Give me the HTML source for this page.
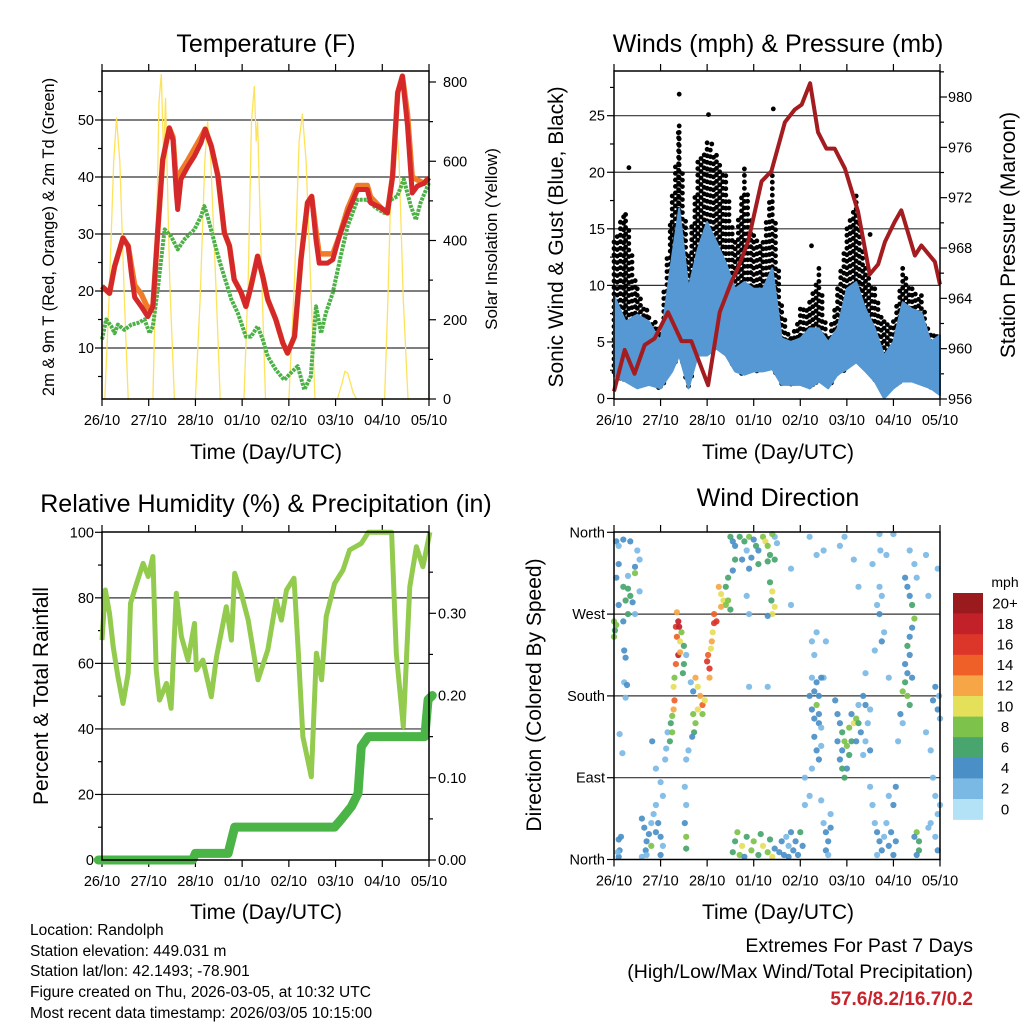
<!DOCTYPE html>
<html><head><meta charset="utf-8"><title>Station Meteogram</title>
<style>
html,body{margin:0;padding:0;background:#fff;}
svg{display:block;font-family:"Liberation Sans",Arial,sans-serif;}
</style></head>
<body>
<svg id="fig" width="1024" height="1024" viewBox="0 0 1024 1024" xmlns="http://www.w3.org/2000/svg">
<rect width="1024" height="1024" fill="#fff"/>
<text x="266" y="52" font-size="25" text-anchor="middle">Temperature (F)</text>
<text x="778" y="52" font-size="25" text-anchor="middle">Winds (mph) &amp; Pressure (mb)</text>
<text x="266" y="512" font-size="25" text-anchor="middle">Relative Humidity (%) &amp; Precipitation (in)</text>
<text x="778" y="506" font-size="25" text-anchor="middle">Wind Direction</text>
<text x="266" y="459" font-size="21" text-anchor="middle">Time (Day/UTC)</text>
<text x="778" y="459" font-size="21" text-anchor="middle">Time (Day/UTC)</text>
<text x="266" y="919" font-size="21" text-anchor="middle">Time (Day/UTC)</text>
<text x="778" y="919" font-size="21" text-anchor="middle">Time (Day/UTC)</text>
<text transform="translate(54,237) rotate(-90)" font-size="16.5" text-anchor="middle">2m &amp; 9m T (Red, Orange) &amp; 2m Td (Green)</text>
<text transform="translate(497,239) rotate(-90)" font-size="17" text-anchor="middle">Solar Insolation (Yellow)</text>
<text transform="translate(563,237) rotate(-90)" font-size="21" text-anchor="middle">Sonic Wind &amp; Gust (Blue, Black)</text>
<text transform="translate(1015,235) rotate(-90)" font-size="21" text-anchor="middle">Station Pressure (Maroon)</text>
<text transform="translate(48,696) rotate(-90)" font-size="21" text-anchor="middle">Percent &amp; Total Rainfall</text>
<text transform="translate(541,695) rotate(-90)" font-size="21" text-anchor="middle">Direction (Colored By Speed)</text>
<g font-size="15.5">
<text x="30" y="935">Location: Randolph</text>
<text x="30" y="956">Station elevation: 449.031 m</text>
<text x="30" y="976">Station lat/lon: 42.1493; -78.901</text>
<text x="30" y="997">Figure created on Thu, 2026-03-05, at 10:32 UTC</text>
<text x="30" y="1018">Most recent data timestamp: 2026/03/05 10:15:00</text>
</g>
<text x="973" y="952" font-size="19.5" text-anchor="end">Extremes For Past 7 Days</text>
<text x="973" y="978" font-size="19.5" text-anchor="end">(High/Low/Max Wind/Total Precipitation)</text>
<text x="973" y="1005" font-size="19" font-weight="bold" fill="#c8232c" text-anchor="end">57.6/8.2/16.7/0.2</text>
</svg>
<script>
// ---------- data ----------
const dayLabels = ["26/10","27/10","28/10","01/10","02/10","03/10","04/10","05/10"];
const tempT = [0,0.16,0.27,0.45,0.56,0.63,0.70,0.84,0.98,1.09,1.20,1.30,1.44,1.52,1.59,1.62,1.69,1.84,1.98,2.12,2.21,2.34,2.48,2.62,2.73,2.83,2.98,3.08,3.19,3.33,3.44,3.55,3.72,3.87,3.97,4.12,4.26,4.40,4.49,4.58,4.65,4.83,4.94,5.08,5.26,5.47,5.68,5.75,5.97,6.11,6.22,6.33,6.43,6.54,6.64,6.75,6.89,7.00];
const tempRed = [20.8,19.6,24.3,29.3,27.9,23.0,18.9,17.3,15.5,17.3,31.4,43.0,48.6,46.5,37.2,34.3,39.6,41.9,43.7,46.0,48.4,45.4,40.2,30.2,27.9,22.0,19.7,17.3,20.8,26.1,22.6,18.5,15.0,10.9,9.1,12.0,25.6,35.5,36.6,29.0,24.9,24.9,25.5,29.6,33.7,37.8,37.8,35.5,34.6,33.7,40.2,54.8,57.7,49.0,37.2,38.4,38.9,39.9];
const tempOrange = [20.8,19.6,24.3,29.3,27.9,24.5,21.0,19.5,17.0,17.3,31.4,43.0,48.6,47.0,39.0,37.0,41.0,43.0,45.0,47.0,48.4,45.4,40.2,30.2,27.9,22.0,19.7,17.3,20.8,26.1,22.6,18.5,15.0,10.9,9.1,12.0,25.6,35.5,36.6,30.5,26.5,26.5,26.5,29.6,34.5,38.5,38.5,36.5,34.6,33.7,40.2,54.8,57.7,51.0,40.0,39.5,38.9,39.9];
const dewT = [0,0.09,0.20,0.27,0.34,0.48,0.63,0.77,0.91,1.02,1.09,1.20,1.34,1.48,1.62,1.77,1.98,2.12,2.19,2.26,2.41,2.55,2.66,2.77,2.91,3.08,3.19,3.33,3.44,3.55,3.72,3.90,4.04,4.19,4.33,4.47,4.58,4.69,4.79,4.94,5.11,5.26,5.47,5.68,5.86,6.04,6.18,6.32,6.46,6.61,6.72,6.82,7.00];
const dewV = [11.5,15.0,13.8,12.6,14.1,13.2,14.1,14.4,15.0,12.6,13.8,20.8,30.8,29.6,27.3,29.1,30.8,33.1,34.9,33.1,28.4,24.3,21.4,18.5,16.1,12.0,12.0,13.8,11.5,8.5,6.2,4.4,5.6,6.8,2.7,5.0,17.3,12.6,16.1,19.7,26.1,31.4,36.0,36.0,34.6,33.7,36.0,36.6,39.6,34.9,32.5,35.5,39.0];
const solarT = [0,0.06,0.15,0.25,0.31,0.38,0.48,0.56,1.09,1.15,1.22,1.27,1.32,1.36,1.45,1.55,2.0,2.1,2.2,2.26,2.33,2.45,2.53,3.04,3.13,3.2,3.26,3.3,3.33,3.42,3.5,4.0,4.12,4.22,4.29,4.37,4.48,4.56,5.04,5.14,5.2,5.26,5.32,5.38,5.45,6.05,6.12,6.2,6.29,6.36,6.45,6.55,7.0];
const solarV = [0,0,250,600,710,600,250,0,0,300,750,820,600,760,300,0,0,250,600,700,600,250,0,0,300,700,790,650,700,300,0,0,300,650,720,600,250,0,0,40,70,65,40,15,0,0,250,600,720,600,250,0,0];
const windT = [0,0.25,0.5,0.75,1.0,1.25,1.4,1.6,1.8,2.0,2.2,2.4,2.6,2.8,3.0,3.2,3.4,3.6,3.8,4.0,4.2,4.4,4.6,4.8,5.0,5.2,5.4,5.6,5.8,6.0,6.2,6.4,6.6,6.8,7.0];
const windHi = [9.1,6.8,7.4,6.8,5.0,12.6,16.8,9.7,13.2,15.6,13.8,12.0,9.7,10.3,9.7,9.7,11.5,5.3,5.0,5.3,6.2,6.2,5.0,6.2,9.7,10.3,7.9,6.2,3.8,5.0,8.5,7.9,7.6,5.0,5.6];
const windLo = [2.0,1.5,0.9,1.2,0.9,2.4,3.8,0.9,3.8,3.8,4.4,3.8,2.4,2.1,2.4,2.4,2.6,1.2,1.2,1.2,0.9,1.5,0.9,2.1,2.6,3.2,2.4,1.5,0,0.9,1.5,1.5,1.2,0.9,0.3];
const gustHi = [14.1,16.8,9.7,7.4,6.2,17.9,24.1,12.6,20.9,22.6,21.5,19.7,13.8,20.3,14.4,13.8,19.7,8.2,5.3,7.9,8.5,11.5,5.3,9.7,15.0,17.9,11.5,9.7,6.8,6.8,11.5,9.7,9.1,5.6,6.2];
const gustOutT = [0.32,1.38,1.4,2.03,2.1,3.42,4.24,5.5];
const gustOutV = [20.4,23.5,26.9,25.1,22.5,25.6,13.5,14.5];
const presT = [0,0.23,0.44,0.66,0.87,1.16,1.45,1.66,2.02,2.27,2.52,2.66,2.88,3.17,3.38,3.67,3.88,4.03,4.21,4.38,4.56,4.74,4.96,5.24,5.49,5.67,5.82,6.03,6.17,6.46,6.60,6.89,7.0];
const presV = [956.6,959.9,958.0,960.3,960.8,962.9,960.6,960.6,957.1,962.9,965.3,966.4,968.5,973.3,974.1,978.0,979.0,979.4,981.1,977.2,975.9,975.9,974.3,970.9,965.9,966.7,968.5,970.1,971.0,967.4,968.2,966.9,965.1];
const rhT = [0,0.07,0.16,0.24,0.34,0.45,0.56,0.61,0.74,0.88,0.99,1.09,1.16,1.23,1.38,1.48,1.59,1.70,1.84,1.98,2.02,2.16,2.34,2.45,2.66,2.77,2.84,2.98,3.13,3.34,3.55,3.73,3.84,3.95,4.11,4.20,4.30,4.48,4.59,4.70,4.80,4.98,5.16,5.30,5.55,5.70,6.20,6.30,6.45,6.59,6.73,6.87,7.02];
const rhV = [67.1,82.4,75.3,65.1,56.0,47.8,57.0,78.3,84.4,90.5,86.5,92.6,58.0,48.8,53.9,46.3,81.4,68.2,61.0,72.2,58.0,61.0,49.8,62.0,77.3,67.1,87.5,81.4,73.2,55.0,64.1,79.3,73.2,82.4,86.0,64.1,37.6,25.4,63.1,55.0,74.3,84.4,88.5,94.6,96.6,100,100,63.1,40.7,83.4,95.6,89.5,100];
const rainT = [-0.08,1.94,2.0,2.7,2.84,4.98,5.13,5.34,5.48,5.55,5.70,6.91,6.98,7.07];
const rainV = [0,0,0.008,0.008,0.04,0.04,0.05,0.065,0.081,0.138,0.15,0.15,0.195,0.2];
const dirT = [0.05,0.1,0.2,0.35,0.5,0.55,0.45,0.1,0.05,0.2,0.3,0.35,0.25,0.4,0.1,0.3,0.2,0.45,0.3,0.55,0.45,
0.0,0.02,0.0,0.05,0.22,0.25,0.22,0.28,0.25,0.12,0.18,0.1,0.12,0.1,0.08,0.15,
0.6,0.65,0.7,0.68,0.75,0.8,0.85,0.9,0.95,1.0,1.05,0.7,0.8,0.9,1.05,0.6,1.0,0.82,0.9,1.0,1.1,1.15,
1.35,1.38,1.33,1.4,1.35,1.45,1.42,1.5,1.38,1.42,1.33,1.5,1.48,1.55,
1.3,1.28,1.3,1.28,1.25,1.22,1.25,1.2,1.12,1.55,1.55,1.52,1.55,1.52,
1.75,1.8,1.85,1.9,1.8,1.95,1.7,1.75,1.72,1.68,1.9,1.7,1.65,1.6,1.55,
2.05,2.05,2.0,2.02,2.1,2.12,2.15,2.15,2.2,2.08,
2.25,2.3,2.35,2.4,2.3,2.45,2.5,2.4,2.45,2.55,2.6,
2.5,2.55,2.6,2.7,2.8,2.85,2.9,3.0,3.05,3.1,3.2,3.25,3.3,3.35,3.45,3.5,3.4,2.75,2.95,3.1,3.3,3.45,2.9,
3.35,3.4,3.38,3.45,3.4,3.3,2.85,2.9,3.3,2.9,3.8,3.8,
2.55,2.6,2.7,2.75,2.85,2.8,2.95,3.0,3.1,3.15,3.2,3.3,3.35,3.4,3.45,3.55,3.6,3.65,3.7,3.75,3.8,3.85,3.9,3.95,4.05,3.75,4.0,2.65,
4.25,4.3,4.25,4.35,4.3,4.4,4.35,4.25,4.3,4.4,4.45,4.3,4.35,4.4,4.25,4.45,4.5,4.2,4.4,4.45,4.1,4.1,4.2,4.35,4.55,4.45,
4.5,4.55,4.6,4.55,4.65,4.6,4.65,
4.75,4.8,4.85,4.9,4.95,5.0,4.9,4.85,5.05,5.1,5.05,5.15,5.2,5.25,5.3,5.0,4.95,4.9,5.2,4.8,5.1,5.25,
5.35,5.4,5.5,5.45,5.4,5.35,5.5,
5.55,5.6,5.65,5.7,5.75,5.8,5.85,5.9,5.95,6.0,5.65,5.5,6.05,6.0,6.05,5.9,
5.7,5.72,5.85,5.7,5.75,5.65,5.55,5.7,6.0,5.8,5.9,5.4,5.6,5.75,
6.25,6.3,6.35,6.4,6.45,6.4,6.35,6.3,6.35,6.25,6.3,6.25,6.2,6.3,6.35,6.15,6.2,6.4,6.1,6.35,6.45,6.5,
6.5,6.55,6.55,6.5,6.45,
6.7,6.8,6.85,6.9,6.95,6.8,6.9,6.95,6.85,6.95,7.0,6.9,7.0,6.75,6.98,6.95,6.75,6.7,
4.85,4.95,5.15,5.25,4.35,4.5,4.2];
const dirDeg = [350,345,352,350,340,330,322,325,310,300,298,290,285,283,280,270,262,315,312,295,270,
262,252,245,258,230,222,195,192,178,138,117,22,10,3,8,25,
45,35,20,10,28,40,50,30,40,25,15,5,15,60,70,3,5,130,100,85,110,140,
272,262,256,256,245,250,240,235,225,228,215,215,205,225,
200,190,175,165,158,150,140,130,122,25,12,40,60,80,
200,190,180,170,165,175,160,150,140,135,160,185,195,120,110,
210,200,218,225,240,250,260,270,262,232,
300,292,285,280,278,285,275,300,310,318,330,
355,350,345,355,350,340,355,352,345,340,355,350,345,335,355,348,358,330,332,325,328,330,320,
305,295,285,278,270,268,290,270,190,190,320,280,
8,20,5,15,25,3,10,20,5,28,15,8,22,3,12,8,20,5,25,15,30,10,20,5,15,3,30,30,
240,225,200,195,185,180,170,165,155,150,145,135,120,110,100,125,200,180,160,200,90,60,70,250,240,65,
40,30,20,10,35,5,50,
175,160,150,140,130,125,120,110,115,130,145,150,155,150,140,100,90,100,130,130,160,170,
180,170,165,150,130,115,120,
60,40,30,20,10,25,40,15,30,5,5,80,20,60,80,70,
358,340,335,300,290,280,325,270,358,250,200,205,230,240,
310,300,290,280,265,255,245,235,225,215,205,195,185,180,170,160,150,200,130,340,325,310,
30,20,10,5,25,
140,120,90,70,50,40,25,10,175,165,155,190,60,35,180,320,290,335,
345,355,330,300,335,340,355];
const dirSpd = [3,2,3,4,2,2,3,4,3,5,6,6,5,4,3,5,4,7,2,2,1,
7,6,7,8,4,4,2,4,2,2,1,4,4,3,2,3,
3,4,4,3,4,2,2,3,4,3,2,2,7,2,1,2,3,3,1,2,1,1,
12,18,16,18,13,7,10,6,17,12,13,6,6,2,
8,10,13,12,8,6,7,6,2,7,6,4,2,2,
12,10,12,13,10,10,8,7,6,4,7,4,2,2,2,
15,12,15,14,12,10,16,14,15,9,
12,10,10,8,12,7,6,6,6,4,6,
6,4,3,6,5,2,8,4,6,3,8,10,7,6,2,2,8,4,3,5,6,6,4,
6,10,6,9,10,3,2,1,1,1,1,1,
6,6,8,10,6,4,8,7,6,6,10,8,6,10,4,3,4,4,2,2,3,4,3,4,3,4,6,7,
2,2,2,3,4,3,8,3,4,4,2,3,4,4,2,2,2,3,4,3,2,2,1,2,2,1,
2,3,4,4,3,2,2,
4,4,4,6,8,7,4,3,6,6,8,10,8,6,4,4,5,6,4,4,4,2,
4,4,2,2,2,2,4,
2,2,3,4,3,2,2,4,4,4,2,2,3,4,4,2,
1,1,1,2,2,1,1,4,1,2,1,2,2,4,
3,4,4,6,7,4,4,6,4,4,4,6,7,8,6,4,2,4,2,1,2,1,
7,6,6,4,4,
2,2,2,2,2,1,2,3,4,4,2,3,1,2,2,1,1,1,
1,1,1,2,1,1,1];
const cbLabels = ["0","2","4","6","8","10","12","14","16","18","20+"];
const cbColors = ["#b3e2f7","#7bb9e5","#4a8fc6","#48a56e","#7dc24a","#e5e05a","#f6a646","#ef6029","#dc3529","#c2212a","#9a1a1d"];

// ---------- helpers ----------
const NS="http://www.w3.org/2000/svg";
const svg=document.getElementById('fig');
function mk(tag,attrs,parent){const e=document.createElementNS(NS,tag);for(const k in attrs)e.setAttribute(k,attrs[k]);(parent||svg).appendChild(e);return e;}
function lin(d0,d1,r0,r1){return v=>r0+(v-d0)/(d1-d0)*(r1-r0);}
function pts(xs,ys,fx,fy){return xs.map((t,i)=>fx(t).toFixed(1)+","+fy(ys[i]).toFixed(1)).join(" ");}
function spd2col(s){let i=Math.floor(s/2+0.5);if(i>10)i=10;if(i<0)i=0;return cbColors[i];}

function frame(name,L,T,R,B,xs){
  const g=mk('g',{});
  
  
  dayLabels.forEach((lab,i)=>{
    const x=xs(i);
    const tb=mk('line',{x1:x,x2:x,y1:B,y2:B+7,stroke:'#000','stroke-width':1.2},g);
    
    
    mk('line',{x1:x,x2:x,y1:T,y2:T-7,stroke:'#000','stroke-width':1.2},g);
    const t=mk('text',{x:x,y:B+26,'font-size':14.5,'text-anchor':'middle'},g);
    
    
    t.textContent=lab;
  });
  return g;
}
function border(L,T,R,B,name){
  const r=mk('rect',{x:L,y:T,width:R-L,height:B-T,fill:'none',stroke:'#000','stroke-width':1.5});
  
  
}
function yticks(g,vals,fy,xEdge,dir,labels,len,anchor,labX,name){
  vals.forEach((v,i)=>{
    const y=fy(v);
    mk('line',{x1:xEdge,x2:xEdge+dir*len,y1:y,y2:y,stroke:'#000','stroke-width':1.2},g);
    if(labels){
      const t=mk('text',{x:labX,y:y+5,'font-size':14.5,'text-anchor':anchor},g);
      
      
      t.textContent=labels[i];
    }
  });
}
function grid(g,vals,fy,L,R){vals.forEach(v=>{const y=fy(v);mk('line',{x1:L,x2:R,y1:y,y2:y,stroke:'#333','stroke-width':1.2},g);});}

// ---------- Panel 1: Temperature ----------
(function(){
  const L=102,T=71,R=429,B=399;
  const fx=lin(0,7,L,R);
  const fy=lin(10,50,348,120);
  const fs=lin(0,800,399,82);
  const g=frame('temperature',L,T,R,B,i=>fx(i));
  grid(g,[10,20,30,40,50],fy,L,R);
  yticks(g,[10,20,30,40,50],fy,L,-1,["10","20","30","40","50"],7,'end',94,'temp-y-tick-label');
  yticks(g,[5,15,25,35,45,55],fy,L,-1,null,4);
  yticks(g,[0,200,400,600,800],fs,R,1,["0","200","400","600","800"],7,'start',443,'solar-y-tick-label');
  yticks(g,[100,300,500,700],fs,R,1,null,4);
  const cp=mk('clipPath',{id:'c1'});mk('rect',{x:L,y:T,width:R-L,height:B-T},cp);
  const s=mk('polyline',{points:pts(solarT,solarV,fx,fs),fill:'none',stroke:'#fde35c','stroke-width':1.3,'clip-path':'url(#c1)'});
  
  
  const d=mk('polyline',{points:pts(dewT,dewV,fx,fy),fill:'none',stroke:'#4cb147','stroke-width':4,'stroke-dasharray':'3 1','stroke-linejoin':'round'});
  
  
  const o=mk('polyline',{points:pts(tempT,tempOrange,fx,fy),fill:'none',stroke:'#f07c2a','stroke-width':5.5,'stroke-linejoin':'round'});
  
  
  const r=mk('polyline',{points:pts(tempT,tempRed,fx,fy),fill:'none',stroke:'#d4282a','stroke-width':5,'stroke-linejoin':'round'});
  
  
  border(L,T,R,B,'temperature');
})();

// ---------- Panel 2: Winds & Pressure ----------
(function(){
  const L=614,T=71,R=940,B=399;
  const fx=lin(0,7,L,R);
  const fy=lin(0,25,398.5,115.7);
  const fp=lin(956,980,399,97);
  const g=frame('winds',L,T,R,B,i=>fx(i));
  grid(g,[5,10,15,20,25],fy,L,R);
  yticks(g,[0,5,10,15,20,25],fy,L,-1,["0","5","10","15","20","25"],7,'end',605,'wind-y-tick-label');
  yticks(g,[2.5,7.5,12.5,17.5,22.5,27.5],fy,L,-1,null,4);
  yticks(g,[956,960,964,968,972,976,980],fp,R,1,["956","960","964","968","972","976","980"],7,'start',948,'pressure-y-tick-label');
  yticks(g,[958,962,966,970,974,978,982],fp,R,1,null,4);
  let dpath="";
  const rr=2.4;
  let col=0;
  for(let i=0;i<windT.length-1;i++){
    const x0=fx(windT[i]),x1=fx(windT[i+1]);
    for(let x=x0;x<x1;x+=3.2){
      col++;
      const f=(x-x0)/(x1-x0);
      const gt=gustHi[i]+(gustHi[i+1]-gustHi[i])*f;
      const lo=windLo[i]+(windLo[i+1]-windLo[i])*f;
      const yt=fy(gt)+(col%3)*3,yb=fy(lo);
      for(let y=yt;y<yb;y+=6.5){dpath+="M"+(x-rr).toFixed(1)+" "+y.toFixed(1)+"a"+rr+" "+rr+" 0 1 0 "+(2*rr)+" 0a"+rr+" "+rr+" 0 1 0 "+(-2*rr)+" 0";}
    }
  }
  gustOutT.forEach((t,i)=>{const x=fx(t),y=fy(gustOutV[i]);dpath+="M"+(x-rr).toFixed(1)+" "+y.toFixed(1)+"a"+rr+" "+rr+" 0 1 0 "+(2*rr)+" 0a"+rr+" "+rr+" 0 1 0 "+(-2*rr)+" 0";});
  const gp=mk('path',{d:dpath,fill:'#000'});
  
  
  const poly=windT.map((t,i)=>fx(t).toFixed(1)+","+fy(windHi[i]).toFixed(1)).concat(windT.slice().reverse().map((t,j)=>{const i=windT.length-1-j;return fx(t).toFixed(1)+","+fy(windLo[i]).toFixed(1);})).join(" ");
  const wb=mk('polygon',{points:poly,fill:'#5598d3',stroke:'#5598d3','stroke-width':2,'stroke-linejoin':'round'});
  
  
  const p=mk('polyline',{points:pts(presT,presV,fx,fp),fill:'none',stroke:'#a31c20','stroke-width':4,'stroke-linejoin':'round'});
  
  
  border(L,T,R,B,'winds');
})();

// ---------- Panel 3: RH & Precip ----------
(function(){
  const L=102,T=532,R=429,B=860;
  const fx=lin(0,7,L,R);
  const fy=lin(0,100,860,532.3);
  const fr=lin(0,0.3,860,613.3);
  const g=frame('humidity',L,T,R,B,i=>fx(i));
  grid(g,[20,40,60,80],fy,L,R);
  yticks(g,[0,20,40,60,80,100],fy,L,-1,["0","20","40","60","80","100"],7,'end',94,'humidity-y-tick-label');
  yticks(g,[10,30,50,70,90],fy,L,-1,null,4);
  yticks(g,[0,0.1,0.2,0.3],fr,R,1,["0.00","0.10","0.20","0.30"],7,'start',438,'rain-y-tick-label');
  yticks(g,[0.05,0.15,0.25,0.35],fr,R,1,null,4);
  const rh=mk('polyline',{points:pts(rhT,rhV,fx,fy),fill:'none',stroke:'#92cb4d','stroke-width':5,'stroke-linejoin':'round'});
  
  
  const rn=mk('polyline',{points:pts(rainT,rainV,fx,fr),fill:'none',stroke:'#4ab446','stroke-width':9,'stroke-linejoin':'round','stroke-linecap':'round'});
  
  
  border(L,T,R,B,'humidity');
})();

// ---------- Panel 4: Wind direction ----------
(function(){
  const L=614,T=532,R=940,B=859.5;
  const fx=lin(0,7,L,R);
  const fy=lin(0,360,859.5,532.3);
  const g=frame('direction',L,T,R,B,i=>fx(i));
  grid(g,[90,180,270],fy,L,R);
  yticks(g,[0,90,180,270,360],fy,L,-1,["North","East","South","West","North"],7,'end',605,'direction-y-tick-label');
  dirT.forEach((t,i)=>{
    const c=mk('circle',{cx:fx(t).toFixed(1),cy:fy(dirDeg[i]).toFixed(1),r:3.1,fill:spd2col(dirSpd[i]),'fill-opacity':0.92});
    
    
  });
  border(L,T,R,B,'direction');
  const cb=mk('g',{});
  
  
  const top=593,h=20.6;
  const u=mk('text',{x:1005,y:587,'font-size':14,'text-anchor':'middle'},cb);
  
  
  u.textContent='mph';
  for(let k=0;k<cbColors.length;k++){
    const idx=cbColors.length-1-k;
    const y=top+k*h;
    const rc=mk('rect',{x:953,y:y,width:30,height:h+0.3,fill:cbColors[idx]},cb);
    
    
    const t=mk('text',{x:1005,y:y+h/2+5,'font-size':15,'text-anchor':'middle'},cb);
    
    
    t.textContent=cbLabels[idx];
  }
})();
</script>
</body></html>
